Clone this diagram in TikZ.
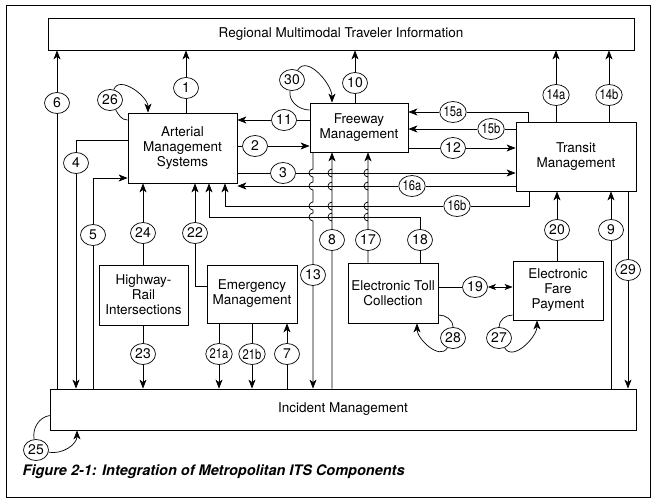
\documentclass[tikz,border=0pt]{standalone}
\usepackage{fontspec}
\setmainfont{TeX Gyre Heros}
\usetikzlibrary{arrows.meta,shapes.geometric}
\tikzset{
  box/.style={draw, line width=0.8pt, align=center, inner sep=0pt,
    font=\fontsize{13.5}{15}\selectfont},
  num/.style={draw, ellipse, line width=0.7pt, minimum width=25pt,
    minimum height=21pt, inner sep=0pt, font=\fontsize{14}{14}\selectfont},
  arr/.style={-{Stealth[length=9pt,width=7pt,inset=2.5pt]}},
}
\newcommand{\nar}[1]{\scalebox{0.8}[1]{#1}}
\begin{document}
\begin{tikzpicture}[x=1pt, y=-1pt, line width=0.7pt]
  \useasboundingbox (0,0) rectangle (655,500);
  \draw[line width=0.8pt] (6,5) rectangle (650,497);
  % components
  \node[box, minimum width=586pt, minimum height=32pt] (rmti) at (341,34) {Regional Multimodal Traveler Information};
  \node[box, minimum width=109pt, minimum height=70pt] (ams) at (182.5,148) {Arterial\\Management\\Systems};
  \node[box, minimum width=98pt, minimum height=49pt] (fm) at (359,127.5) {Freeway\\Management};
  \node[box, minimum width=120pt, minimum height=69pt] (tm) at (576,156.5) {Transit\\Management};
  \node[box, minimum width=89pt, minimum height=60pt] (hri) at (143.5,295) {Highway-\\Rail\\Intersections};
  \node[box, minimum width=90pt, minimum height=58pt] (em) at (252,294) {Emergency\\Management};
  \node[box, minimum width=90pt, minimum height=60pt] (etc) at (393,293) {Electronic Toll\\Collection};
  \node[box, minimum width=90pt, minimum height=59pt] (efp) at (558,290.5) {Electronic\\Fare\\Payment};
  \node[box, minimum width=586pt, minimum height=41pt] (im) at (343,409.5) {Incident Management};
  % numbered flows
  \draw
    (186,88) node[num] (c1) {1}
    (255,146) node[num] (c2) {2}
    (283,173) node[num] (c3) {3}
    (76,163) node[num] (c4) {4}
    (93,235) node[num] (c5) {5}
    (57,103) node[num] (c6) {6}
    (287,354) node[num] (c7) {7}
    (332,240) node[num] (c8) {8}
    (611,230) node[num] (c9) {9}
    (355,83) node[num] (c10) {10}
    (284,120) node[num] (c11) {11}
    (453,148) node[num] (c12) {12}
    (313,275) node[num] (c13) {13}
    (556,95) node[num] (c14a) {\nar{14a}}
    (609,95) node[num] (c14b) {\nar{14b}}
    (453,112) node[num] (c15a) {\nar{15a}}
    (491,129) node[num] (c15b) {\nar{15b}}
    (412,186) node[num] (c16a) {\nar{16a}}
    (457,206) node[num] (c16b) {\nar{16b}}
    (368,240) node[num] (c17) {17}
    (420,240) node[num] (c18) {18}
    (475,287) node[num] (c19) {19}
    (557,230) node[num] (c20) {20}
    (219,354) node[num] (c21a) {\nar{21a}}
    (252,354) node[num] (c21b) {\nar{21b}}
    (195,233) node[num] (c22) {22}
    (143,354) node[num] (c23) {23}
    (143,233) node[num] (c24) {24}
    (36,450) node[num] (c25) {25}
    (110,100) node[num] (c26) {26}
    (499,338) node[num] (c27) {27}
    (453,338) node[num] (c28) {28}
    (628,270) node[num] (c29) {29}
    (292,80) node[num] (c30) {30};
  \begin{scope}[arr]
    \draw (ams.north -| c1) -- (c1) -- (rmti.south -| c1);
    \draw (ams.east |- c2) -- (c2) -- (fm.west |- c2);
    \draw (ams.east |- c3) -- (c3) -- (tm.west |- c3);
    \draw ([yshift=8pt]ams.west) -| (c4) -- (im.north -| c4);
    \draw (im.north -| c5) -- (c5) |- ([yshift=-30pt]ams.west);
    \draw (im.north -| c6) -- (c6) -- (rmti.south -| c6);
    \draw (im.north -| c7) -- (c7) -- (em.south -| c7);
    \draw (im.north -| c8) -- (c8)
      \foreach \h in {217,206,186,173} { -- (332,\h+4) arc[start angle=90, end angle=270, radius=4] }
      -- (fm.south -| c8);
    \draw (im.north -| c9) -- (c9) -- (tm.south -| c9);
    \draw (fm.north -| c10) -- (c10) -- (rmti.south -| c10);
    \draw (fm.west |- c11) -- (c11) -- (ams.east |- c11);
    \draw (fm.east |- c12) -- (c12) -- (tm.west |- c12);
    \draw (fm.south -| c13)
      \foreach \h in {173,186,206,217} { -- (313,\h-4) arc[start angle=270, end angle=90, radius=4] }
      -- (c13) -- (im.north -| c13);
    \draw (tm.north -| c14a) -- (c14a) -- (rmti.south -| c14a);
    \draw (tm.north -| c14b) -- (c14b) -- (rmti.south -| c14b);
    \draw ([xshift=-48pt]tm.north) |- (c15a) -- (fm.east |- c15a);
    \draw (tm.west |- c15b) -- (c15b) -- (fm.east |- c15b);
    \draw (tm.west |- c16a) -- (c16a) -- (ams.east |- c16a);
    \draw ([xshift=-47pt]tm.south) |- (c16b) -| ([xshift=42.5pt]ams.south);
    \draw (etc.north -| c17) -- (c17)
      \foreach \h in {217,206,186,173} { -- (368,\h+4) arc[start angle=90, end angle=270, radius=4] }
      -- (fm.south -| c17);
    \draw (etc.north -| c18) -- (c18) -- ++(0,-23) -| ([xshift=26.5pt]ams.south);
    \draw[<->, >={Stealth[length=8pt,width=6pt,inset=2pt]}] (etc.east |- c19) -- (c19) -- (efp.west |- c19);
    \draw (efp.north -| c20) -- (c20) -- (tm.south -| c20);
    \draw (em.south -| c21a) -- (c21a) -- (im.north -| c21a);
    \draw (em.south -| c21b) -- (c21b) -- (im.north -| c21b);
    \draw ([yshift=8pt]em.west) -| (c22) -- (ams.south -| c22);
    \draw (hri.south -| c23) -- (c23) -- (im.north -| c23);
    \draw (hri.north -| c24) -- (c24) -- (ams.south -| c24);
    \draw (tm.south -| c29) -- (c29) -- (im.north -| c29);
    % loops
    \draw[-] ([yshift=-6pt]im.west) to[out=190, in=100] (c25);
    \draw (c25) to[out=-10, in=-90] ([xshift=-266pt]im.south);
    \draw[-] ([yshift=28pt]ams.west) to[out=180, in=-60] (c26);
    \draw (c26) to[out=70, in=90] ([xshift=-34.5pt]ams.north);
    \draw[-] ([yshift=-24.5pt]efp.west) to[out=180, in=90] (c27);
    \draw (c27) to[out=-60, in=-90] ([xshift=-21pt]efp.south);
    \draw[-] ([yshift=-22pt]etc.east) to[out=0, in=90] (c28);
    \draw (c28) to[out=-120, in=-90] ([xshift=24pt]etc.south);
    \draw[-] ([yshift=17.5pt]fm.west) to[out=180, in=-100] (c30);
    \draw (c30) to[out=60, in=90] ([xshift=-27pt]fm.north);
  \end{scope}
  \node[anchor=west, font=\fontsize{14.5}{16}\selectfont\bfseries\itshape] (cap) at (19,472)
    {Figure 2-1: Integration of Metropolitan ITS Components};
\end{tikzpicture}
\end{document}
